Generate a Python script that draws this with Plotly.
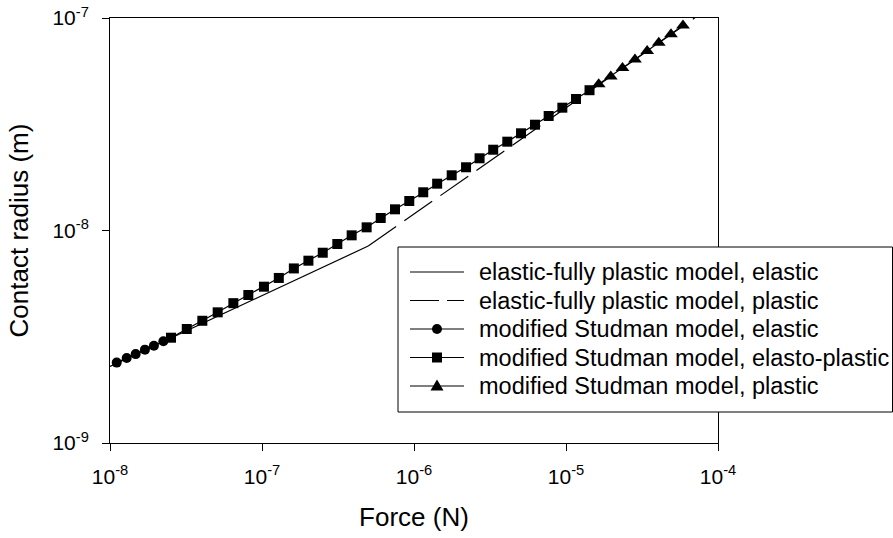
import plotly.graph_objects as go

# ---------------- data ----------------
# elastic-fully plastic model
efp_elastic_force = [1.0e-8, 5.0e-7]
efp_elastic_radius = [2.29e-9, 8.45e-9]
efp_plastic_force = [5.0e-7, 1.0e-4]
efp_plastic_radius = [8.45e-9, 1.195e-7]

# modified Studman model
ms_elastic_force = [1.107e-8, 1.288e-8, 1.476e-8, 1.698e-8, 1.945e-8, 2.244e-8]
ms_elastic_radius = [2.39e-9, 2.51e-9, 2.62e-9, 2.75e-9, 2.87e-9, 3.01e-9]

ms_ep_force = [2.52e-8, 3.20e-8, 4.05e-8, 5.11e-8, 6.48e-8, 8.13e-8, 1.03e-7, 1.29e-7,
               1.62e-7, 2.02e-7, 2.51e-7, 3.13e-7, 3.89e-7, 4.88e-7, 6.04e-7, 7.50e-7,
               9.31e-7, 1.15e-6, 1.42e-6, 1.77e-6, 2.20e-6, 2.70e-6, 3.32e-6, 4.11e-6,
               5.06e-6, 6.25e-6, 7.69e-6, 9.46e-6, 1.164e-5, 1.428e-5]
ms_ep_radius = [3.13e-9, 3.44e-9, 3.76e-9, 4.12e-9, 4.55e-9, 4.97e-9, 5.44e-9, 5.98e-9,
                6.63e-9, 7.21e-9, 7.86e-9, 8.64e-9, 9.49e-9, 1.035e-8, 1.145e-8, 1.258e-8,
                1.377e-8, 1.513e-8, 1.661e-8, 1.819e-8, 1.984e-8, 2.187e-8, 2.400e-8, 2.618e-8,
                2.867e-8, 3.147e-8, 3.458e-8, 3.784e-8, 4.157e-8, 4.573e-8]

ms_plastic_force = [1.641e-5, 1.971e-5, 2.353e-5, 2.843e-5, 3.420e-5, 4.077e-5, 4.906e-5, 5.884e-5]
ms_plastic_radius = [4.88e-8, 5.31e-8, 5.81e-8, 6.37e-8, 7.00e-8, 7.64e-8, 8.39e-8, 9.23e-8]

x_tickvals = [1e-8, 1e-7, 1e-6, 1e-5, 1e-4]
x_ticktext = ["10<sup>-8</sup>", "10<sup>-7</sup>", "10<sup>-6</sup>", "10<sup>-5</sup>", "10<sup>-4</sup>"]
y_tickvals = [1e-9, 1e-8, 1e-7]
y_ticktext = ["10<sup>-9</sup>", "10<sup>-8</sup>", "10<sup>-7</sup>"]

legend_labels = [
    "elastic-fully plastic model, elastic",
    "elastic-fully plastic model, plastic",
    "modified Studman model, elastic",
    "modified Studman model, elasto-plastic",
    "modified Studman model, plastic",
]

# ---------------- figure ----------------
FONT = "Liberation Sans, Arial, sans-serif"
W, H = 893, 538
ML, MR, MT, MB = 110, 175, 18, 95
PW, PH = W - ML - MR, H - MT - MB

fig = go.Figure()

fig.add_trace(go.Scatter(x=efp_elastic_force, y=efp_elastic_radius, mode="lines",
                         name=legend_labels[0], line=dict(color="black", width=1.2)))
fig.add_trace(go.Scatter(x=efp_plastic_force, y=efp_plastic_radius, mode="lines",
                         name=legend_labels[1],
                         line=dict(color="black", width=1.2, dash="34px,10px")))

ms_all_force = ms_elastic_force + ms_ep_force + ms_plastic_force
ms_all_radius = ms_elastic_radius + ms_ep_radius + ms_plastic_radius
fig.add_trace(go.Scatter(x=ms_all_force, y=ms_all_radius, mode="lines",
                         name="modified Studman model",
                         line=dict(color="black", width=1.2)))

fig.add_trace(go.Scatter(x=ms_elastic_force, y=ms_elastic_radius, mode="markers",
                         name=legend_labels[2],
                         marker=dict(symbol="circle", size=10, color="black")))
fig.add_trace(go.Scatter(x=ms_ep_force, y=ms_ep_radius, mode="markers",
                         name=legend_labels[3],
                         marker=dict(symbol="square", size=10, color="black")))
fig.add_trace(go.Scatter(x=ms_plastic_force, y=ms_plastic_radius, mode="markers",
                         name=legend_labels[4],
                         marker=dict(symbol="triangle-up", size=12, color="black")))


def pxx(p):
    return (p - ML) / PW


def pxy(p):
    return (H - MB - p) / PH


# custom legend (box, symbols, text)
shapes = [dict(type="rect", xref="paper", yref="paper",
               x0=pxx(398), x1=pxx(892.5), y0=pxy(412), y1=pxy(247),
               line=dict(color="black", width=1), fillcolor="white", layer="above")]
annotations = []
lx0, lx1, lxc = 410, 464, 437
for i, lab in enumerate(legend_labels):
    yc = 272 + i * 28.5
    shapes.append(dict(type="line", xref="paper", yref="paper",
                       x0=pxx(lx0), x1=pxx(lx1), y0=pxy(yc), y1=pxy(yc),
                       line=dict(color="black", width=1.2,
                                 dash="29px,8px" if i == 1 else "solid"),
                       layer="above"))
    if i == 2:
        shapes.append(dict(type="circle", xref="paper", yref="paper",
                           x0=pxx(lxc - 5), x1=pxx(lxc + 5), y0=pxy(yc + 5), y1=pxy(yc - 5),
                           line=dict(color="black", width=0), fillcolor="black", layer="above"))
    elif i == 3:
        shapes.append(dict(type="rect", xref="paper", yref="paper",
                           x0=pxx(lxc - 5), x1=pxx(lxc + 5), y0=pxy(yc + 5), y1=pxy(yc - 5),
                           line=dict(color="black", width=0), fillcolor="black", layer="above"))
    elif i == 4:
        p = "M {:.5f},{:.5f} L {:.5f},{:.5f} L {:.5f},{:.5f} Z".format(
            pxx(lxc - 6.5), pxy(yc + 4.5), pxx(lxc + 6.5), pxy(yc + 4.5), pxx(lxc), pxy(yc - 6.5))
        shapes.append(dict(type="path", xref="paper", yref="paper", path=p,
                           line=dict(color="black", width=0), fillcolor="black", layer="above"))
    annotations.append(dict(text=lab, xref="paper", yref="paper", x=pxx(477), y=pxy(yc),
                            xanchor="left", yanchor="middle", showarrow=False,
                            font=dict(family=FONT, size=23.5, color="black")))

axis_common = dict(
    type="log", showgrid=False, zeroline=False, showline=True, linecolor="black",
    linewidth=1, mirror=True, ticks="outside", ticklen=7, tickwidth=1, tickcolor="black",
    tickfont=dict(family=FONT, size=21, color="black"), automargin=False,
)

fig.update_layout(
    width=W, height=H,
    margin=dict(l=ML, r=MR, t=MT, b=MB),
    paper_bgcolor="white", plot_bgcolor="white",
    showlegend=False,
    font=dict(family=FONT, color="black"),
    xaxis=dict(axis_common, range=[-8, -4], tickvals=x_tickvals, ticktext=x_ticktext,
               ticklabelstandoff=8,
               title=dict(text="Force (N)", font=dict(family=FONT, size=26, color="black"),
                          standoff=20)),
    yaxis=dict(axis_common, range=[-9, -7], tickvals=y_tickvals, ticktext=y_ticktext,
               ticklabelstandoff=9,
               title=dict(text="Contact radius (m)", font=dict(family=FONT, size=26, color="black"),
                          standoff=16)),
    shapes=shapes,
    annotations=annotations,
)

fig.write_html("out.html")
